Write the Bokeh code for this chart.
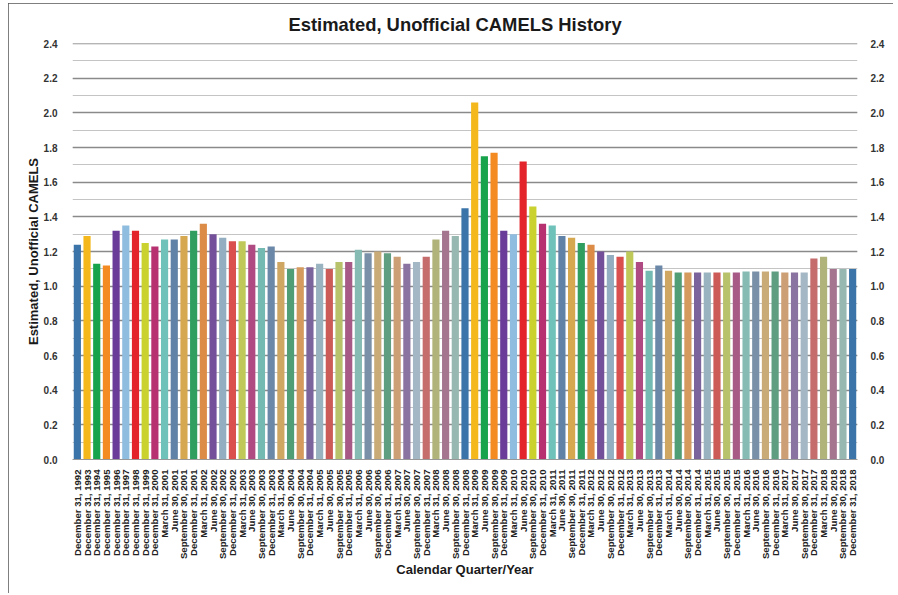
from bokeh.plotting import figure
from bokeh.models import (FactorRange, Range1d, LinearAxis, SingleIntervalTicker,
                          ColumnDataSource, NumeralTickFormatter)
from bokeh.embed import file_html
from bokeh.resources import INLINE
import math

# ---- data -------------------------------------------------------------
annual_years = [1992, 1993, 1994, 1995, 1996, 1997, 1998, 1999, 2000]
quarter_years = list(range(2001, 2019))
quarter_names = ["March 31", "June 30", "September 30", "December 31"]

labels = [f"December 31, {y}" for y in annual_years] + \
         [f"{q}, {y}" for y in quarter_years for q in quarter_names]

camels = [
    1.24, 1.29, 1.13, 1.12, 1.32, 1.35, 1.32, 1.25, 1.23,          # 1992-2000
    1.27, 1.27, 1.29, 1.32,                                        # 2001
    1.36, 1.30, 1.28, 1.26,                                        # 2002
    1.26, 1.24, 1.22, 1.23,                                        # 2003
    1.14, 1.10, 1.11, 1.11,                                        # 2004
    1.13, 1.10, 1.14, 1.14,                                        # 2005
    1.21, 1.19, 1.20, 1.19,                                        # 2006
    1.17, 1.13, 1.14, 1.17,                                        # 2007
    1.27, 1.32, 1.29, 1.45,                                        # 2008
    2.06, 1.75, 1.77, 1.32,                                        # 2009
    1.30, 1.72, 1.46, 1.36,                                        # 2010
    1.35, 1.29, 1.28, 1.25,                                        # 2011
    1.24, 1.20, 1.18, 1.17,                                        # 2012
    1.20, 1.14, 1.09, 1.12,                                        # 2013
    1.09, 1.08, 1.08, 1.08,                                        # 2014
    1.08, 1.08, 1.08, 1.08,                                        # 2015
    1.085, 1.085, 1.085, 1.085,                                    # 2016
    1.08, 1.08, 1.08, 1.16,                                        # 2017
    1.17, 1.10, 1.10, 1.10,                                        # 2018
]

palette = [
    "#3a74a8", "#f4b81c", "#17a34b", "#f38b22", "#6a3b98", "#8fbde0",
    "#e3242b", "#c9d22e", "#b7306f", "#6ec2b9", "#5f82a6", "#d6a84f",
    "#2f9e5f", "#dc8c46", "#74509a", "#93aec0", "#d9504f", "#bfc95a",
    "#b04a82", "#74b9b2", "#6b88a8", "#cfa763", "#4f9e76", "#d49a5e",
    "#7b639c", "#9ab3c0", "#cc5a57", "#b8c26a", "#a85a87", "#86bbb4",
    "#7990a8", "#c9ab78", "#5f9e80", "#cd9f74", "#8a73a0", "#a3b8c4",
    "#c56c6c", "#b1b47a", "#a57590", "#97b8b0",
]
colors = [palette[i % len(palette)] for i in range(len(labels))]

source = ColumnDataSource(dict(label=labels, value=camels, color=colors))

FONT = "Liberation Sans"

p = figure(
    width=885, height=590,
    x_range=FactorRange(factors=labels),
    y_range=Range1d(0, 2.401),
    output_backend="svg", toolbar_location=None,
    min_border_left=64, min_border_right=36, min_border_top=39, min_border_bottom=134,
    outline_line_color=None,
    title="Estimated, Unofficial CAMELS History",
)
p.styles = {"margin-left": "8px", "margin-top": "3px",
            "outline": "1px solid #555555", "outline-offset": "-1px"}

p.title.align = "left"
p.title.offset = 216
p.title.vertical_align = "bottom"
p.title.text_font = FONT
p.title.text_font_size = "18.4px"
p.title.text_font_style = "bold"
p.title.text_color = "#1a1a1a"
p.title.standoff = 17

p.vbar(x="label", top="value", width=0.74, fill_color="color", line_color=None, source=source)

ticker = SingleIntervalTicker(interval=0.2, num_minor_ticks=2)

# left axis
p.yaxis.ticker = ticker
p.yaxis.formatter = NumeralTickFormatter(format="0.0")
p.yaxis.axis_line_color = None
p.yaxis.major_tick_line_color = None
p.yaxis.minor_tick_line_color = None
p.yaxis.major_label_standoff = 9
p.yaxis.major_label_text_font = FONT
p.yaxis.major_label_text_font_size = "10px"
p.yaxis.major_label_text_font_style = "bold"
p.yaxis.major_label_text_color = "#333333"
p.yaxis.axis_label = "Estimated, Unofficial CAMELS"
p.yaxis.axis_label_text_font = FONT
p.yaxis.axis_label_text_font_size = "13px"
p.yaxis.axis_label_text_font_style = "bold"
p.yaxis.axis_label_text_color = "#1a1a1a"
p.yaxis.axis_label_standoff = 0

# right axis
right = LinearAxis(ticker=ticker, formatter=NumeralTickFormatter(format="0.0"))
right.axis_line_color = None
right.major_tick_line_color = None
right.minor_tick_line_color = None
right.major_label_standoff = 7
right.major_label_text_font = FONT
right.major_label_text_font_size = "10px"
right.major_label_text_font_style = "bold"
right.major_label_text_color = "#333333"
p.add_layout(right, "right")

# x axis
p.xaxis.major_label_orientation = math.pi / 2
p.xaxis.axis_line_color = "#999999"
p.xaxis.major_tick_line_color = None
p.xaxis.minor_tick_line_color = None
p.xaxis.major_label_standoff = 4
p.xaxis.major_label_text_font = FONT
p.xaxis.major_label_text_font_size = "9.6px"
p.xaxis.major_label_text_font_style = "bold"
p.xaxis.major_label_text_color = "#222222"
p.xaxis.axis_label = "Calendar Quarter/Year"
p.xaxis.axis_label_text_font = FONT
p.xaxis.axis_label_text_font_size = "13px"
p.xaxis.axis_label_text_font_style = "bold"
p.xaxis.axis_label_text_color = "#1a1a1a"
p.xaxis.axis_label_standoff = 0

# grid
p.xgrid.grid_line_color = None
p.ygrid.ticker = ticker
p.ygrid.grid_line_color = "#8a8a8a"
p.ygrid.grid_line_width = 1.4
p.ygrid.minor_grid_line_color = "#c4c4c4"
p.ygrid.minor_grid_line_width = 1

p.background_fill_color = "white"
p.border_fill_color = "white"

open("out.html", "w").write(file_html(p, INLINE))
